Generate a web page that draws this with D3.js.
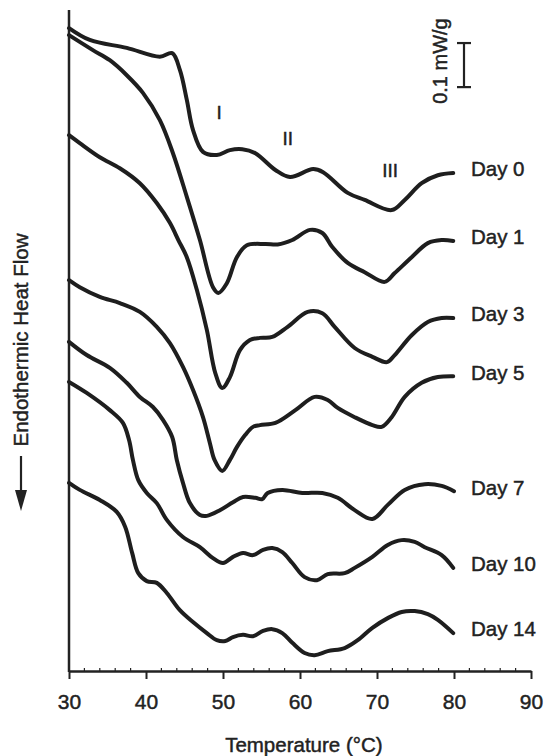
<!DOCTYPE html>
<html>
<head>
<meta charset="utf-8">
<script src="https://cdn.jsdelivr.net/npm/d3@7"></script>
<style>
    body { margin: 0; background: #fff; }
    text { font-family: "Liberation Sans", Arial, sans-serif; fill: #222; stroke: #222; stroke-width: 0.45px; }
</style>
</head>
<body>
<div id="chart"></div>
<script>
// heat flow readings, [temperature (°C), heat flow offset (0.01 mW/g)]
const day0 = [[30, 145.9], [32.7, 143.2], [37.5, 141.4], [41.8, 139.4], [43.4, 140.2], [44.4, 136.4], [45.3, 129.6],
    [46.1, 122.8], [47.4, 117.8], [49.2, 117.1], [50.9, 118.2], [52.5, 118.4], [54.2, 117.5], [56.8, 113.7],
    [58.7, 112.1], [61.7, 113.9], [63.0, 113.2], [66.2, 108.5], [68.4, 106.9], [71.9, 104.6], [73.6, 106.9],
    [75.8, 110.7], [77.9, 112.5], [79.9, 113.0]]
const day1 = [[30, 144.3], [33.1, 140.9], [35.3, 138.6], [37.5, 135.2], [39.6, 131.2], [41.8, 125.0], [43.5, 117.5],
    [45.3, 107.6], [47.0, 97.8], [48.7, 87.1], [49.4, 85.8], [50.5, 88.0], [51.8, 93.9], [53.1, 96.6], [55.5, 96.9],
    [57.1, 96.8], [59.0, 97.8], [61.3, 100.1], [62.9, 99.4], [64.2, 96.2], [66.2, 92.6], [68.4, 90.5], [71.0, 88.3],
    [72.3, 90.3], [74.5, 93.9], [76.6, 97.1], [78.4, 97.8], [79.9, 97.6]]
const day3 = [[30, 121.6], [31.4, 119.8], [34.0, 116.6], [36.6, 114.1], [39.2, 110.7], [41.4, 106.2], [43.1, 101.7],
    [44.2, 97.8], [45.3, 93.9], [46.6, 86.5], [47.9, 77.4], [49.0, 67.6], [49.9, 64.2], [50.9, 66.7], [52.2, 72.8],
    [53.5, 75.1], [54.8, 75.6], [56.4, 75.8], [58.4, 78.1], [61.0, 81.5], [62.9, 81.2], [64.5, 78.1], [67.1, 73.3],
    [69.4, 71.3], [71.3, 70.1], [72.3, 71.7], [74.5, 76.2], [76.6, 79.2], [78.4, 80.1], [79.9, 80.1]]
const day5 = [[30, 88.7], [31.4, 87.1], [34.0, 84.9], [36.6, 83.5], [39.2, 81.5], [41.4, 78.1], [43.1, 74.4],
    [44.8, 69.0], [46.1, 63.8], [47.4, 57.6], [48.3, 51.7], [48.9, 47.9], [49.9, 45.4], [50.9, 47.9], [51.8, 50.8],
    [52.9, 53.6], [53.9, 55.4], [54.8, 55.8], [56.8, 56.3], [59.4, 59.2], [61.9, 62.2], [63.6, 61.5], [64.9, 59.7],
    [67.1, 57.6], [69.4, 55.8], [70.6, 55.4], [71.9, 57.6], [73.6, 62.2], [75.8, 65.4], [77.9, 66.7], [79.9, 66.9]]
const day7 = [[30, 74.7], [32.3, 71.7], [35.3, 68.8], [37.5, 65.4], [39.2, 62.2], [40.9, 59.9], [42.2, 57.0],
    [43.4, 53.1], [44.0, 47.9], [44.8, 42.7], [45.7, 38.1], [47.0, 35.4], [47.9, 35.2], [49.6, 36.5], [51.3, 38.3],
    [52.6, 39.5], [54.2, 39.3], [55.1, 39.0], [55.8, 40.4], [57.7, 41.1], [60.3, 40.4], [62.9, 40.4], [64.9, 39.3],
    [67.1, 36.5], [69.4, 34.5], [71.4, 37.7], [73.6, 41.1], [76.2, 42.4], [78.4, 42.0], [80.0, 40.8]]
const day10 = [[30, 65.6], [32.3, 63.1], [35.3, 59.2], [37.0, 56.3], [37.8, 52.4], [38.3, 47.9], [39.0, 43.3],
    [40.1, 40.4], [41.4, 38.1], [42.7, 34.3], [44.8, 30.4], [47.0, 28.1], [48.7, 25.6], [50.0, 24.5], [51.3, 25.9],
    [52.6, 26.8], [53.9, 26.3], [55.2, 27.5], [56.4, 27.9], [57.7, 27.0], [59.0, 24.5], [60.6, 21.3], [62.2, 20.6],
    [63.6, 22.0], [65.8, 22.2], [67.1, 23.4], [69.4, 25.9], [71.4, 28.6], [73.2, 29.7], [74.9, 29.3], [76.2, 28.1],
    [78.4, 26.3], [79.9, 23.4]]
const day14 = [[30, 42.7], [31.4, 41.1], [34.0, 38.8], [36.2, 36.1], [37.3, 32.7], [38.2, 26.8], [39.0, 22.2],
    [40.1, 20.4], [41.4, 20.0], [42.7, 17.7], [44.4, 13.8], [46.1, 11.1], [47.9, 8.6], [49.2, 7.0], [50.3, 6.8],
    [51.3, 7.7], [52.6, 8.2], [53.9, 7.9], [55.2, 9.1], [56.4, 9.5], [57.7, 8.6], [59.0, 6.4], [60.6, 4.1],
    [61.9, 3.6], [63.6, 4.5], [65.8, 5.2], [67.5, 7.0], [69.4, 9.8], [71.4, 12.0], [73.2, 13.4], [74.9, 13.6],
    [76.6, 12.9], [77.9, 11.6], [79.9, 8.6]]

const dayLabels = ["Day 0", "Day 1", "Day 3", "Day 5", "Day 7", "Day 10", "Day 14"]
const series = [day0, day1, day3, day5, day7, day10, day14]

// transition annotations, [label, temperature, heat flow]
const peakLabels = [["I", 49.5, 126.8], ["II", 58.4, 121.0], ["III", 71.7, 113.7]]

const xTicks = [30, 40, 50, 60, 70, 80, 90]
const scaleBarValue = 10   // 0.1 mW/g
const scaleBarTop = 142.5

/**
 * Draws the DSC thermogram chart.
 */
function drawChart() {
    const width = 545
    const height = 756

    const svg = d3.select("#chart")
        .append("svg")
        .attr("width", width)
        .attr("height", height)

    const x = d3.scaleLinear().domain([30, 90]).range([69, 531])
    const y = d3.scaleLinear().domain([0, 150]).range([671, 10])

    // x axis with major ticks below and small minor ticks above
    const xAxis = svg.append("g")
        .attr("transform", `translate(0, ${y(0)})`)
        .call(d3.axisBottom(x).tickValues(xTicks).tickSize(8).tickPadding(15).tickSizeOuter(0))
    xAxis.select(".domain").attr("stroke", "#222").attr("stroke-width", 2.5)
    xAxis.selectAll(".tick line").attr("stroke", "#222").attr("stroke-width", 2)
    xAxis.selectAll(".tick text")
        .attr("font-size", 21)
        .attr("font-family", "Liberation Sans, Arial, sans-serif")
        .attr("fill", "#222")
        .attr("stroke", "#222")
        .attr("stroke-width", 0.45)

    svg.append("g")
        .selectAll("line")
        .data(d3.range(32, 90, 2).filter(t => t % 10 !== 0))
        .join("line")
        .attr("x1", d => x(d))
        .attr("x2", d => x(d))
        .attr("y1", y(0))
        .attr("y2", y(0) - 3)
        .attr("stroke", "#222")
        .attr("stroke-width", 1.2)

    // y axis line only
    svg.append("line")
        .attr("x1", x(30))
        .attr("x2", x(30))
        .attr("y1", y(150))
        .attr("y2", y(0) + 1)
        .attr("stroke", "#222")
        .attr("stroke-width", 2.5)

    // axis titles
    svg.append("text")
        .attr("x", x(60.5))
        .attr("y", 752)
        .attr("text-anchor", "middle")
        .attr("font-size", 20.5)
        .text("Temperature (°C)")

    svg.append("text")
        .attr("transform", "translate(21, 340) rotate(-90)")
        .attr("text-anchor", "middle")
        .attr("dy", "0.36em")
        .attr("font-size", 20.5)
        .text("Endothermic Heat Flow")

    // arrow pointing down under the y title
    svg.append("line")
        .attr("x1", 21).attr("x2", 21)
        .attr("y1", 456).attr("y2", 495)
        .attr("stroke", "#222")
        .attr("stroke-width", 2.2)
    svg.append("path")
        .attr("d", "M15,490 L27,490 L21,511 Z")
        .attr("fill", "#222")

    // curves
    const line = d3.line()
        .x(d => x(d[0]))
        .y(d => y(d[1]))
        .curve(d3.curveCatmullRom.alpha(0.5))

    svg.append("g")
        .selectAll("path")
        .data(series)
        .join("path")
        .attr("d", line)
        .attr("fill", "none")
        .attr("stroke", "#1e1e1e")
        .attr("stroke-width", 4)
        .attr("stroke-linecap", "round")
        .attr("stroke-linejoin", "round")

    // day labels at the end of each curve
    svg.append("g")
        .selectAll("text")
        .data(series)
        .join("text")
        .attr("x", x(82.2))
        .attr("y", d => y(d[d.length - 1][1]) - 4)
        .attr("dy", "0.36em")
        .attr("font-size", 20.5)
        .text((d, i) => dayLabels[i])

    // roman numeral annotations
    svg.append("g")
        .selectAll("text")
        .data(peakLabels)
        .join("text")
        .attr("x", d => x(d[1]))
        .attr("y", d => y(d[2]))
        .attr("dy", "0.36em")
        .attr("text-anchor", "middle")
        .attr("font-size", 19)
        .text(d => d[0])

    // scale bar
    const sx = 464
    const bar = svg.append("g").attr("stroke", "#222").attr("stroke-width", 2.2)
    bar.append("line").attr("x1", sx).attr("x2", sx)
        .attr("y1", y(scaleBarTop)).attr("y2", y(scaleBarTop - scaleBarValue))
    bar.append("line").attr("x1", sx - 7).attr("x2", sx + 7)
        .attr("y1", y(scaleBarTop)).attr("y2", y(scaleBarTop))
    bar.append("line").attr("x1", sx - 7).attr("x2", sx + 7)
        .attr("y1", y(scaleBarTop - scaleBarValue)).attr("y2", y(scaleBarTop - scaleBarValue))

    svg.append("text")
        .attr("transform", `translate(440, ${y(scaleBarTop - scaleBarValue / 2) - 4}) rotate(-90)`)
        .attr("text-anchor", "middle")
        .attr("dy", "0.36em")
        .attr("font-size", 20)
        .text("0.1 mW/g")
}

drawChart()
</script>
</body>
</html>
